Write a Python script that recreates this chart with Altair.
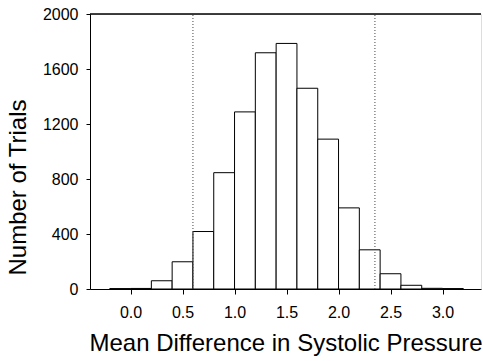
import altair as alt
import pandas as pd

bin_start = [-0.2, 0.0, 0.2, 0.4, 0.6, 0.8, 1.0, 1.2, 1.4, 1.6, 1.8, 2.0, 2.2, 2.4, 2.6, 2.8, 3.0]
counts = [3, 4, 60, 198, 418, 846, 1288, 1718, 1786, 1460, 1090, 590, 285, 111, 27, 5, 3]
bin_width = 0.2
cutoffs = [0.60, 2.35]
x_ticks = [0.0, 0.5, 1.0, 1.5, 2.0, 2.5, 3.0]
y_ticks = [0, 400, 800, 1200, 1600, 2000]

df = pd.DataFrame({
    "start": bin_start,
    "end": [round(s + bin_width, 2) for s in bin_start],
    "count": counts,
})
cut_df = pd.DataFrame({"x": cutoffs})
top_df = pd.DataFrame({"y": [2000]})

FONT = "Liberation Sans"
xscale = alt.Scale(domain=[-0.39, 3.37], nice=False, zero=False)
yscale = alt.Scale(domain=[0, 2000], nice=False)

bars = alt.Chart(df).mark_rect(fill="white", stroke="black", strokeWidth=1).encode(
    x=alt.X("start:Q", scale=xscale, axis=alt.Axis(
        values=x_ticks, format=".1f", title="Mean Difference in Systolic Pressure",
        grid=False, tickSize=5, labelPadding=10, labelFontSize=16, labelFont=FONT,
        labelColor="black", titleFont=FONT, titleFontSize=24, titleFontWeight="normal",
        titleColor="black", titleBaseline="alphabetic", titleY=61,
        domainColor="black", tickColor="black")),
    x2="end:Q",
    y=alt.Y("count:Q", scale=yscale, axis=alt.Axis(
        values=y_ticks, format="d", title="Number of Trials", grid=False, tickSize=4,
        labelPadding=8, labelFontSize=16, labelFont=FONT, labelColor="black",
        titleFont=FONT, titleFontSize=24, titleFontWeight="normal", titleColor="black",
        titleBaseline="alphabetic", titleX=-65, titleY=173, titleAngle=-90,
        domainColor="black", tickColor="black")),
    y2=alt.datum(0),
)

cuts = alt.Chart(cut_df).mark_rule(color="#444444", strokeWidth=1, strokeDash=[1, 2]).encode(
    x=alt.X("x:Q", scale=xscale),
    y=alt.datum(0, scale=yscale),
    y2=alt.datum(2000),
)

top = alt.Chart(top_df).mark_rule(color="black", strokeWidth=1.5).encode(
    y=alt.Y("y:Q", scale=yscale),
)

chart = alt.layer(bars, cuts, top).properties(
    width=391, height=275,
    autosize=alt.AutoSizeParams(type="none"),
    padding={"left": 90, "top": 14, "right": 2, "bottom": 72},
).configure_view(stroke=None).configure(background="white")

chart.save("out.html", embed_options={"renderer": "svg", "actions": False})
